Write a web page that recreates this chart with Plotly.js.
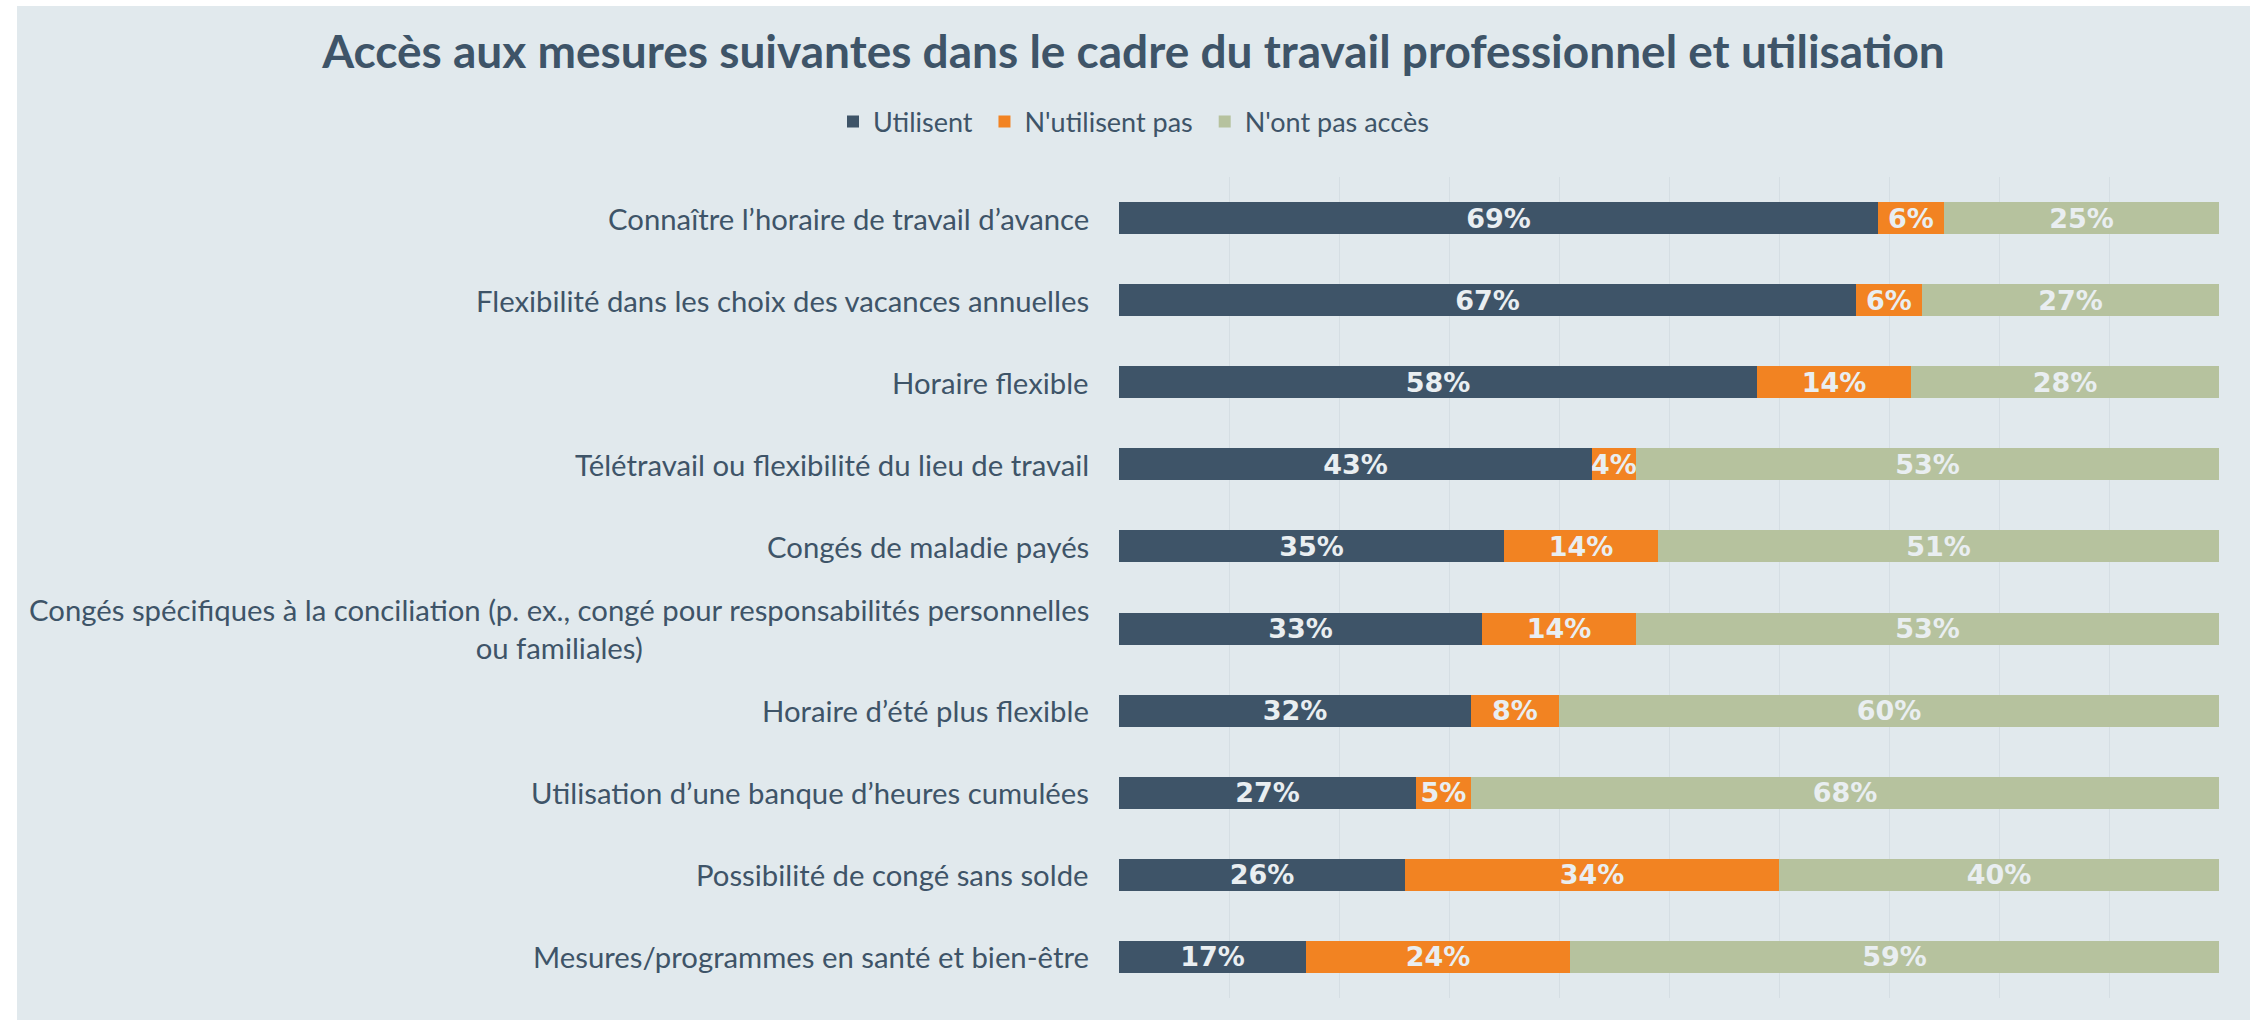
<!DOCTYPE html>
<html>
<head>
<meta charset="utf-8">
<script src="https://cdn.plot.ly/plotly-3.0.1.min.js"></script>
<style>
html,body{margin:0;padding:0;background:#ffffff;width:2257px;height:1020px;overflow:hidden;}
#chart{position:absolute;left:17px;top:6px;width:2233px;height:1014px;}
</style>
</head>
<body>
<div id="chart"></div>
<script>
const categories = [
  "Connaître l’horaire de travail d’avance",
  "Flexibilité dans les choix des vacances annuelles",
  "Horaire flexible",
  "Télétravail ou flexibilité du lieu de travail",
  "Congés de maladie payés",
  "Congés spécifiques à la conciliation (p. ex., congé pour responsabilités personnelles<br>ou familiales)",
  "Horaire d’été plus flexible",
  "Utilisation d’une banque d’heures cumulées",
  "Possibilité de congé sans solde",
  "Mesures/programmes en santé et bien-être"
];
const utilisent = [69, 67, 58, 43, 35, 33, 32, 27, 26, 17];
const nUtilisentPas = [6, 6, 14, 4, 14, 14, 8, 5, 34, 24];
const nOntPasAcces = [25, 27, 28, 53, 51, 53, 60, 68, 40, 59];
const seriesNames = ["Utilisent", "N'utilisent pas", "N'ont pas accès"];
const colors = ["#3E5468", "#F28322", "#B6C29E"];

const FONT = "Lato, 'Open Sans', sans-serif";
const LABELFONT = "'DejaVu Sans', sans-serif";
const TEXTCOL = "#3E5468";
const labelColor = "#E9EEF1";

const seriesData = [utilisent, nUtilisentPas, nOntPasAcces];
const traces = seriesData.map((vals, i) => ({
  type: "bar",
  orientation: "h",
  name: seriesNames[i] + (i < seriesNames.length - 1 ? "\u00a0" : ""),
  y: categories,
  x: vals,
  marker: {color: colors[i], line: {width: 0}},
  text: vals.map(v => v + "%"),
  textposition: "inside",
  insidetextanchor: "middle",
  constraintext: "none",
  textangle: 0,
  textfont: {family: LABELFONT, size: 27, color: labelColor, weight: "bold"},
  hoverinfo: "x+name"
}));

const annotations = categories.map(c => ({
  xref: "paper", yref: "y",
  x: 0, y: c,
  xanchor: "right", yanchor: "middle",
  xshift: -28,
  align: "center",
  showarrow: false,
  text: c,
  font: {family: FONT, size: 29.3, color: TEXTCOL}
}));

const layout = {
  width: 2233, height: 1014,
  barmode: "stack",
  bargap: 0.61,
  paper_bgcolor: "#E1E9ED",
  plot_bgcolor: "#E1E9ED",
  margin: {l: 1102, r: 31, t: 171, b: 22, pad: 0},
  title: {
    text: "<b>Accès aux mesures suivantes dans le cadre du travail professionnel et utilisation</b>",
    font: {family: FONT, size: 46, color: TEXTCOL},
    x: 0.5, xanchor: "center", xref: "container",
    y: 1 - 46/1014, yanchor: "middle", yref: "container"
  },
  showlegend: true,
  legend: {
    orientation: "h",
    x: 0.5, xanchor: "center", xref: "container",
    y: 1 - 116/1014, yanchor: "middle", yref: "container",
    font: {family: FONT, size: 27, color: TEXTCOL},
    bgcolor: "rgba(0,0,0,0)",
    traceorder: "normal",
    itemwidth: 30,
    tracegroupgap: 0
  },
  xaxis: {
    range: [0, 100],
    dtick: 10,
    showgrid: true,
    gridcolor: "#D5DEE3",
    gridwidth: 1,
    zeroline: false,
    showticklabels: false,
    showline: false,
    ticks: "",
    fixedrange: true
  },
  yaxis: {
    autorange: "reversed",
    showticklabels: false,
    showgrid: false,
    zeroline: false,
    showline: false,
    ticks: "",
    fixedrange: true
  },
  annotations: annotations
};

Plotly.newPlot("chart", traces, layout, {displayModeBar: false, responsive: false});
</script>
</body>
</html>
